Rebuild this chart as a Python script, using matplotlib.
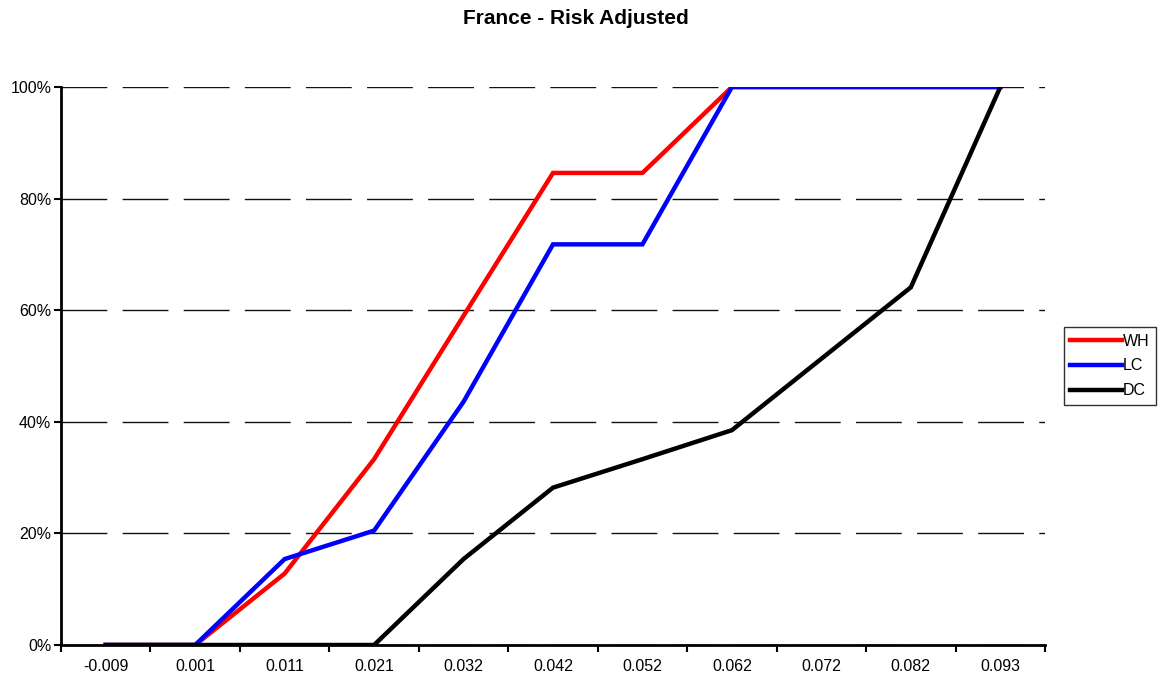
import matplotlib
matplotlib.use("Agg")
import matplotlib.pyplot as plt
from matplotlib.ticker import FixedLocator, PercentFormatter
import numpy as np

categories = ["-0.009", "0.001", "0.011", "0.021", "0.032", "0.042",
              "0.052", "0.062", "0.072", "0.082", "0.093"]
wh = [0.0, 0.0, 12.8, 33.3, 59.0, 84.6, 84.6, 100.0, 100.0, 100.0, 100.0]
lc = [0.0, 0.0, 15.4, 20.5, 43.6, 71.8, 71.8, 100.0, 100.0, 100.0, 100.0]
dc = [0.0, 0.0, 0.0, 0.0, 15.4, 28.2, 33.3, 38.5, 51.3, 64.1, 100.0]
series_names = ["WH", "LC", "DC"]
series_colors = ["#ff0000", "#0000ff", "#000000"]
title = "France - Risk Adjusted"

plt.rcParams["font.family"] = ["Liberation Sans", "DejaVu Sans"]

fig = plt.figure(figsize=(11.59, 6.79), dpi=100)
ax = fig.add_axes([61/1159, 1 - 645/679, (1045-61)/1159, (645-87)/679])

x = np.arange(len(categories))
for vals, name, col in zip([wh, lc, dc], series_names, series_colors):
    ax.plot(x, vals, color=col, lw=3.2, label=name, solid_joinstyle="miter", zorder=3)

ax.set_xlim(-0.5, len(categories) - 0.5)
ax.set_ylim(0, 100)
ax.set_yticks(np.arange(0, 101, 20))
ax.yaxis.set_major_formatter(PercentFormatter(decimals=0))
ax.set_xticks(x)
ax.set_xticklabels(categories)
ax.xaxis.set_minor_locator(FixedLocator(np.arange(-0.5, len(categories), 1.0)))
ax.tick_params(axis="x", which="major", length=0, pad=10, labelsize=11.5)
ax.tick_params(axis="x", which="minor", length=5, width=1.5, direction="out")
ax.tick_params(axis="y", which="major", length=5, width=1.5, direction="out", labelsize=11.5, pad=2)

for s in ["top", "right"]:
    ax.spines[s].set_visible(False)
for s in ["left", "bottom"]:
    ax.spines[s].set_linewidth(2)

ax.yaxis.grid(True, color="#111111", lw=1.0, linestyle=(0, (33, 11)))
ax.set_axisbelow(True)

fig.text(576/1159, 1 - 18/679, title, ha="center", va="center",
         fontsize=15, fontweight="bold")

leg = ax.legend(loc="center left", bbox_to_anchor=(1064/1159, 1 - 366/679),
                bbox_transform=fig.transFigure, frameon=True, fancybox=False,
                edgecolor="black", fontsize=11.5, handlelength=3.2, handletextpad=0.1,
                borderpad=0.4, labelspacing=0.62, borderaxespad=0)
leg.get_frame().set_linewidth(1)

fig.savefig("out.png", dpi=100)
